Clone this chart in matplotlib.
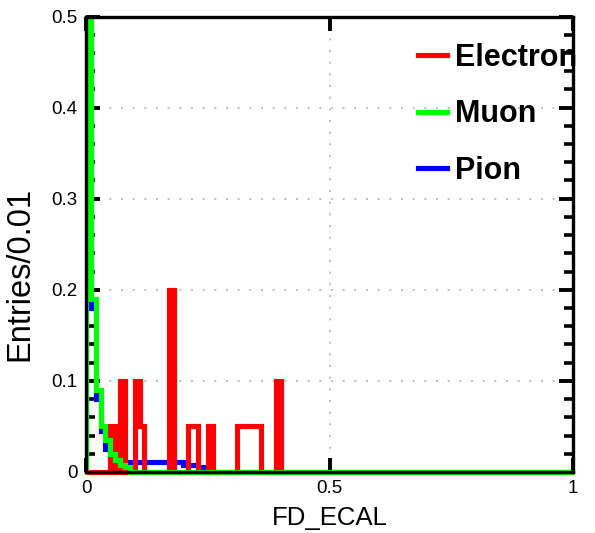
import numpy as np
import matplotlib
matplotlib.use("Agg")
import matplotlib.pyplot as plt
from matplotlib.patches import Rectangle
from matplotlib.ticker import MultipleLocator
from matplotlib.lines import Line2D

# ---- data (entries per 0.01 bin, 100 bins from 0 to 1) ----
bin_edges = np.round(np.linspace(0.0, 1.0, 101), 2)

electron_bins = {5: 0.05, 7: 0.10, 10: 0.10, 11: 0.05, 17: 0.20,
                 21: 0.05, 22: 0.05, 25: 0.05,
                 31: 0.05, 32: 0.05, 33: 0.05, 34: 0.05, 35: 0.05,
                 39: 0.10}
muon_head = [0.58, 0.19, 0.09, 0.05, 0.035, 0.02, 0.013, 0.008, 0.005]
pion_head = [0.46, 0.18, 0.08, 0.045, 0.025, 0.018, 0.014, 0.012,
             0.011, 0.011, 0.011, 0.011, 0.011, 0.011, 0.011, 0.011,
             0.011, 0.011, 0.011, 0.011, 0.008, 0.008, 0.008, 0.006, 0.006]

electron = np.zeros(100)
for k, v in electron_bins.items():
    electron[k] = v
muon = np.zeros(100)
muon[:len(muon_head)] = muon_head
pion = np.zeros(100)
pion[:len(pion_head)] = pion_head

labels = ["Electron", "Muon", "Pion"]
colors = ["#ff0000", "#00ff00", "#0000ff"]
values = [electron, muon, pion]
zorders = [2.9, 3.0, 2.8]   # pion below electron, muon on top

x_ticks = [0, 0.5, 1]
x_ticklabels = ["0", "0.5", "1"]
y_ticks = [0, 0.1, 0.2, 0.3, 0.4, 0.5]
y_ticklabels = ["0", "0.1", "0.2", "0.3", "0.4", "0.5"]

# ---- figure ----
plt.rcParams['font.family'] = ['Liberation Sans', 'DejaVu Sans']
fig = plt.figure(figsize=(5.95, 5.33), dpi=100)
ax = fig.add_axes([86/595, 1 - 472/533, (573-86)/595, (472-16.5)/533])

clip = Rectangle((0.0, -0.02), 1.02, 1.02, transform=ax.transAxes,
                 facecolor='none', edgecolor='none')
ax.add_patch(clip)

for name, vals, col, z in zip(labels, values, colors, zorders):
    art = ax.stairs(vals, bin_edges, baseline=0, color=col, linewidth=3.7,
                    zorder=z, label=name)
    art.set_clip_path(clip)

ax.set_xlim(0, 1)
ax.set_ylim(0, 0.5)
ax.set_xticks(x_ticks)
ax.set_xticklabels(x_ticklabels)
ax.set_yticks(y_ticks)
ax.set_yticklabels(y_ticklabels)
ax.yaxis.set_minor_locator(MultipleLocator(0.02))

ax.grid(True, which='major', color='#bdbdbd', linestyle=(0, (1, 5)),
        linewidth=1.4, zorder=1)
ax.set_axisbelow(True)

ax.tick_params(which='major', direction='in', length=10, width=2.8,
               top=True, right=True, labelsize=13.5, pad=6, colors='black')
ax.tick_params(which='minor', direction='in', length=6.5, width=2.6,
               top=True, right=True)
for s in ax.spines.values():
    s.set_linewidth(2.4)
    s.set_zorder(4)

ax.set_xlabel("FD_ECAL", fontsize=18.5, labelpad=6)
ax.set_ylabel("Entries/0.01", fontsize=23.5)
ax.yaxis.set_label_coords(-0.104, (472 - 274) / 455.5)

leg_handles = [Line2D([], [], color=c, linewidth=3.7) for c in colors]
leg = ax.legend(leg_handles, labels, loc='upper left',
                bbox_to_anchor=(418/595, 1 - 43/533),
                bbox_transform=fig.transFigure, frameon=False,
                prop={'weight': 'bold', 'size': 22}, handlelength=0.95,
                handletextpad=0.25, labelspacing=0.86, borderpad=0,
                borderaxespad=0)

fig.savefig("out.png", dpi=100)
